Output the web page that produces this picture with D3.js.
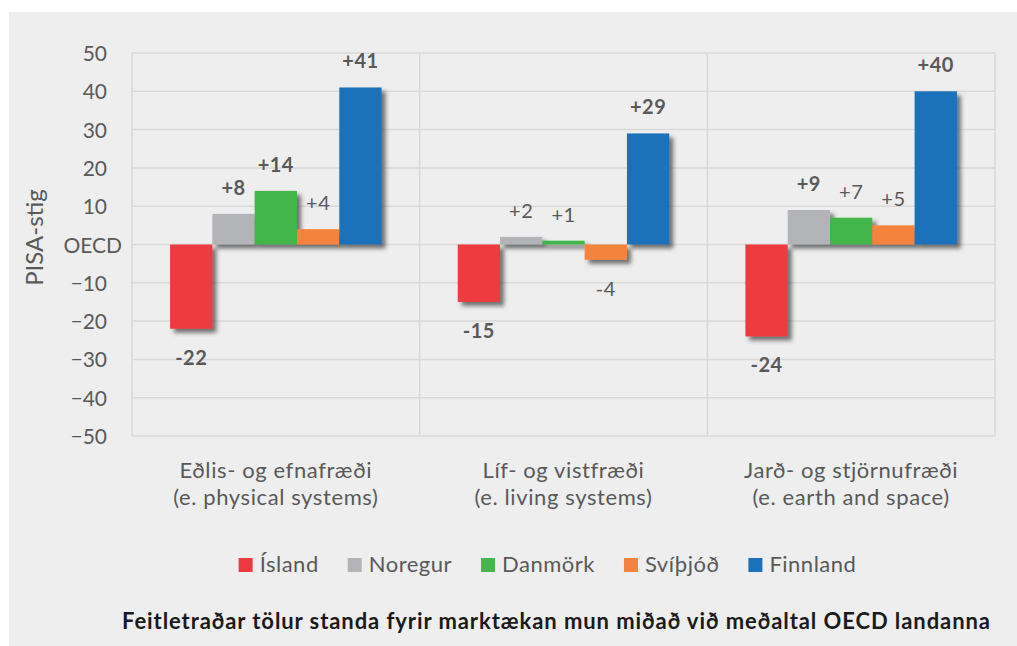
<!DOCTYPE html>
<html>
<head>
<meta charset="utf-8">
<script src="https://cdn.jsdelivr.net/npm/d3@7"></script>
<style>
  html, body { margin: 0; padding: 0; background: #ffffff; }
  svg { display: block; }
  text { font-family: Lato, "Open Sans", sans-serif; }
</style>
</head>
<body>
<svg id="chart" width="1017" height="646"></svg>
<script>
// ---- data ----
const categories = [
  ["Eðlis- og efnafræði", "(e. physical systems)"],
  ["Líf- og vistfræði", "(e. living systems)"],
  ["Jarð- og stjörnufræði", "(e. earth and space)"]
];
const seriesNames = ["Ísland", "Noregur", "Danmörk", "Svíþjóð", "Finnland"];
const seriesColors = ["#ee3a3f", "#b3b4b7", "#43b64c", "#f4833d", "#1b72ba"];
// values per series, in category order
const island   = [-22, -15, -24];
const noregur  = [8, 2, 9];
const danmork  = [14, 1, 7];
const svithjod = [4, -4, 5];
const finnland = [41, 29, 40];
// significance (bold labels)
const sigIsland   = [true, true, true];
const sigNoregur  = [true, false, true];
const sigDanmork  = [true, false, false];
const sigSvithjod = [false, false, false];
const sigFinnland = [true, true, true];
const yTicks = [-50, -40, -30, -20, -10, 0, 10, 20, 30, 40, 50];
const yTitle = "PISA-stig";
const footnote = "Feitletraðar tölur standa fyrir marktækan mun miðað við meðaltal OECD landanna";

const seriesValues = [island, noregur, danmork, svithjod, finnland];
const seriesSig = [sigIsland, sigNoregur, sigDanmork, sigSvithjod, sigFinnland];

// ---- layout ----
const svg = d3.select("#chart");
const plot = { left: 132, right: 995, top: 53, bottom: 436 };
const textColor = "#595959";
const gridColor = "#d9d9d9";

svg.append("rect").attr("x", 9).attr("y", 12).attr("width", 1008).attr("height", 634).attr("fill", "#eeeeee");

const defs = svg.append("defs");
const f = defs.append("filter").attr("id", "shadow").attr("x", "-30%").attr("y", "-30%").attr("width", "160%").attr("height", "160%");
f.append("feDropShadow").attr("dx", 4).attr("dy", 4).attr("stdDeviation", 2.2)
  .attr("flood-color", "#3a3a3a").attr("flood-opacity", 0.7);

const x0 = d3.scaleBand().domain(d3.range(categories.length)).range([plot.left, plot.right]).padding(0);
const x1 = d3.scaleBand().domain(d3.range(seriesNames.length)).range([0, x0.bandwidth()]).paddingInner(0).paddingOuter(0.9);
const y = d3.scaleLinear().domain([-50, 50]).range([plot.bottom, plot.top]);

// gridlines
const grid = svg.append("g");
grid.selectAll("line.h").data(yTicks).join("line")
  .attr("x1", plot.left).attr("x2", plot.right)
  .attr("y1", d => y(d)).attr("y2", d => y(d))
  .attr("stroke", gridColor).attr("stroke-width", 1.5);
const vlines = d3.range(categories.length).map(i => x0(i)).concat([plot.right]);
grid.selectAll("line.v").data(vlines).join("line")
  .attr("x1", d => d).attr("x2", d => d)
  .attr("y1", plot.top).attr("y2", plot.bottom)
  .attr("stroke", gridColor).attr("stroke-width", 1.5);

// y axis
const yAxis = d3.axisLeft(y).tickValues(yTicks).tickSize(0).tickPadding(0)
  .tickFormat(d => d === 0 ? "OECD" : d3.format("d")(d));
const ya = svg.append("g").attr("transform", `translate(107,0)`).call(yAxis);
ya.select(".domain").remove();
ya.selectAll("text").attr("fill", textColor).attr("font-size", 21)
  .style("font-family", "Lato, sans-serif").attr("dy", "0.36em")
  .attr("x", d => d === 0 ? 15 : 0);

svg.append("text").attr("transform", `translate(43,${(plot.top + plot.bottom) / 2 - 7}) rotate(-90)`)
  .attr("text-anchor", "middle").attr("fill", textColor).attr("font-size", 24).text(yTitle);

// bars
const barData = [];
seriesValues.forEach((vals, s) => vals.forEach((v, c) => barData.push({ s, c, v, sig: seriesSig[s][c] })));

const bars = svg.append("g").attr("filter", "url(#shadow)");
bars.selectAll("rect").data(barData).join("rect")
  .attr("x", d => x0(d.c) + x1(d.s))
  .attr("width", x1.bandwidth())
  .attr("y", d => y(Math.max(0, d.v)))
  .attr("height", d => Math.abs(y(d.v) - y(0)))
  .attr("fill", d => seriesColors[d.s]);

// labels
svg.append("g").selectAll("text").data(barData).join("text")
  .attr("x", d => x0(d.c) + x1(d.s) + x1.bandwidth() / 2)
  .attr("y", d => d.v >= 0 ? y(d.v) - 19 : y(d.v) + 36)
  .attr("text-anchor", "middle")
  .attr("font-size", 20)
  .attr("letter-spacing", 0.5)
  .attr("font-weight", d => d.sig ? 700 : 400)
  .attr("fill", textColor)
  .text(d => (d.v > 0 ? "+" : "") + d.v);

// category labels
const cat = svg.append("g").selectAll("text").data(categories).join("text")
  .attr("x", (d, i) => x0(i) + x0.bandwidth() / 2)
  .attr("y", 478)
  .attr("text-anchor", "middle").attr("fill", textColor).attr("font-size", 22)
  .attr("letter-spacing", 0.6);
cat.selectAll("tspan").data(d => d).join("tspan")
  .attr("x", function () { return d3.select(this.parentNode).attr("x"); })
  .attr("dy", (d, i) => i === 0 ? 0 : 27)
  .text(d => d);

// legend
const legend = svg.append("g");
const items = legend.selectAll("g").data(seriesNames).join("g");
items.append("rect").attr("width", 14).attr("height", 14).attr("y", 558).attr("fill", (d, i) => seriesColors[i]);
items.append("text").attr("x", 21).attr("y", 572).attr("fill", textColor).attr("font-size", 22)
  .attr("letter-spacing", 0.5).text(d => d);
let widths = [];
items.each(function () { widths.push(21 + d3.select(this).select("text").node().getComputedTextLength()); });
const gap = 29;
const total = d3.sum(widths) + gap * (widths.length - 1);
let cx = (240 + 855) / 2 - total / 2;
items.attr("transform", (d, i) => { const t = `translate(${cx},0)`; cx += widths[i] + gap; return t; });

// footnote
svg.append("text").attr("x", 122).attr("y", 629)
  .attr("fill", "#1a1a1a").attr("font-size", 22).attr("font-weight", 700)
  .attr("textLength", 868).attr("lengthAdjust", "spacing").text(footnote);
</script>
</body>
</html>
